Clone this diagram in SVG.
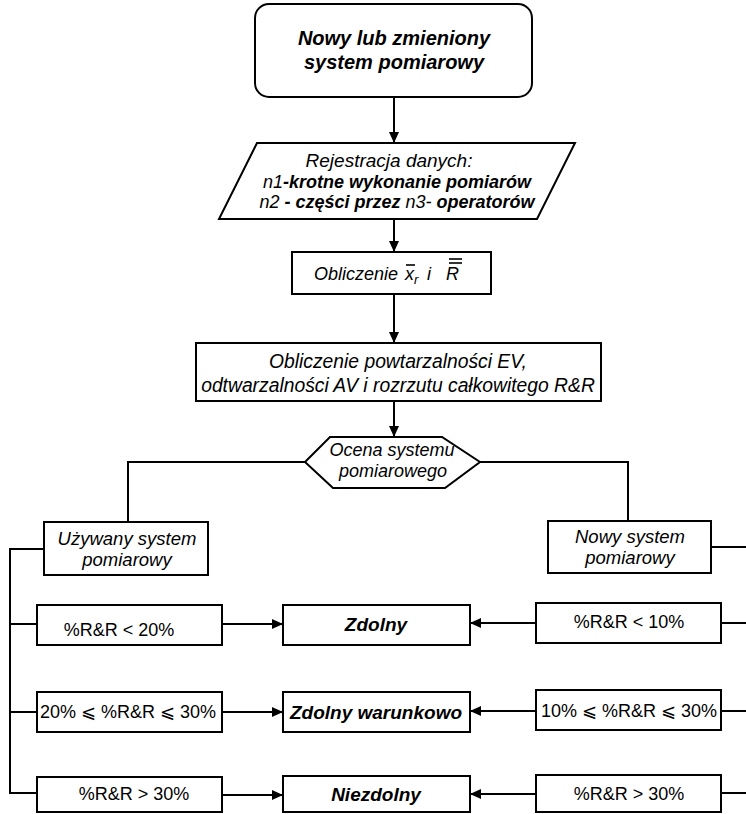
<svg xmlns="http://www.w3.org/2000/svg" width="746" height="814" viewBox="0 0 746 814">
<defs>
<marker id="ah" markerUnits="userSpaceOnUse" markerWidth="12" markerHeight="10" refX="11" refY="5" orient="auto">
<path d="M0,0 L11,5 L0,10 z" fill="#000"/>
</marker>
<style>
.box{fill:#fff;stroke:#000;stroke-width:2}
.ln{fill:none;stroke:#000;stroke-width:2}
.ar{fill:none;stroke:#000;stroke-width:2;marker-end:url(#ah)}
text{font-family:"Liberation Sans",Arial,"DejaVu Sans",sans-serif;fill:#000;text-anchor:middle}
.bi{font-weight:bold;font-style:italic}
.it{font-style:italic}
.f19{font-size:19px}
.f18{font-size:18px}
.f17{font-size:17px}
</style>
</defs>
<rect width="746" height="814" fill="#fff"/>
<g id="connectors">
<line class="ar" x1="394" y1="97" x2="394" y2="143"/>
<line class="ar" x1="394" y1="219" x2="394" y2="252"/>
<line class="ar" x1="394" y1="294" x2="394" y2="343"/>
<line class="ar" x1="394" y1="401" x2="394" y2="437"/>
<polyline class="ln" points="305,462 128,462 128,522"/>
<polyline class="ln" points="480,462 628,462 628,521"/>
<polyline class="ln" points="44,549 10,549 10,793 37,793"/>
<line class="ln" x1="10" y1="624" x2="37" y2="624"/>
<line class="ln" x1="10" y1="712" x2="37" y2="712"/>
<line class="ln" x1="711" y1="547" x2="746" y2="547"/>
<line class="ln" x1="721" y1="623" x2="746" y2="623"/>
<line class="ln" x1="721" y1="711" x2="746" y2="711"/>
<line class="ln" x1="721" y1="793" x2="746" y2="793"/>
<line class="ar" x1="222" y1="624" x2="283" y2="624"/>
<line class="ar" x1="222" y1="712" x2="283" y2="712"/>
<line class="ar" x1="222" y1="795" x2="283" y2="795"/>
<line class="ar" x1="536" y1="623" x2="470" y2="623"/>
<line class="ar" x1="536" y1="711" x2="470" y2="711"/>
<line class="ar" x1="536" y1="794" x2="470" y2="794"/>
</g>
<g id="start">
<rect class="box" x="255" y="4" width="277" height="93" rx="14"/>
<text class="bi" style="font-size:20px" x="394" y="45">Nowy lub zmieniony</text>
<text class="bi" style="font-size:20px" x="394" y="69">system pomiarowy</text>
</g>
<g id="data">
<polygon class="box" points="257,143 575,143 537,219 219,219"/>
<text class="it" style="font-size:19px" x="389" y="167">Rejestracja danych:</text>
<text class="f18" x="397" y="188"><tspan class="it">n1</tspan><tspan class="bi">-krotne wykonanie pomiarów</tspan></text>
<text class="f18" x="397" y="208"><tspan class="it">n2</tspan><tspan class="bi"> - części przez </tspan><tspan class="it">n3-</tspan><tspan class="bi"> operatorów</tspan></text>
</g>
<g id="calc1">
<rect class="box" x="292" y="252" width="199" height="42"/>
<text class="it" style="font-size:18px;text-anchor:start" x="314" y="280">Obliczenie</text>
<text class="it" style="font-size:18px;text-anchor:start" x="405" y="280">x</text>
<text class="it" style="font-size:13px;text-anchor:start" x="414" y="284">r</text>
<text class="it" style="font-size:18px;text-anchor:start" x="427" y="280">i</text>
<text class="it" style="font-size:18px;text-anchor:start" x="446" y="280">R</text>
<line class="ln" style="stroke-width:1.6" x1="406" y1="265" x2="415" y2="265"/>
<line class="ln" style="stroke-width:1.6" x1="449" y1="259" x2="462" y2="259"/>
<line class="ln" style="stroke-width:1.6" x1="449" y1="263" x2="462" y2="263"/>
</g>
<g id="calc2">
<rect class="box" x="196" y="343" width="405" height="58"/>
<text class="it" style="font-size:19.3px" x="398" y="368">Obliczenie powtarzalności EV,</text>
<text class="it" style="font-size:19.3px" x="398" y="392">odtwarzalności AV i rozrzutu całkowitego R&amp;R</text>
</g>
<g id="decision">
<polygon class="box" points="305,462 330,437 442,437 480,462 445,488 333,488"/>
<text class="it f18" x="392" y="456">Ocena systemu</text>
<text class="it f18" x="393" y="477">pomiarowego</text>
</g>
<g id="used">
<rect class="box" x="44" y="522" width="164" height="53"/>
<text class="it" style="font-size:18.5px" x="127" y="545">Używany system</text>
<text class="it" style="font-size:18.5px" x="127" y="566">pomiarowy</text>
</g>
<g id="new">
<rect class="box" x="548" y="521" width="163" height="52"/>
<text class="it" style="font-size:18.5px" x="630" y="543">Nowy system</text>
<text class="it" style="font-size:18.5px" x="630" y="564">pomiarowy</text>
</g>
<g id="l1">
<rect class="box" x="37" y="605" width="185" height="40"/>
<text class="f18" x="119" y="636">%R&amp;R &lt; 20%</text>
</g>
<g id="l2">
<rect class="box" x="37" y="692" width="185" height="40"/>
<text class="f18" x="128" y="718">20% ⩽ %R&amp;R ⩽ 30%</text>
</g>
<g id="l3">
<rect class="box" x="37" y="777" width="185" height="35"/>
<text class="f18" x="134" y="800">%R&amp;R &gt; 30%</text>
</g>
<g id="r1">
<rect class="box" x="536" y="603" width="185" height="40"/>
<text class="f18" x="629" y="628">%R&amp;R &lt; 10%</text>
</g>
<g id="r2">
<rect class="box" x="536" y="690" width="185" height="40"/>
<text class="f18" x="629" y="717">10% ⩽ %R&amp;R ⩽ 30%</text>
</g>
<g id="r3">
<rect class="box" x="536" y="775" width="185" height="37"/>
<text class="f18" x="629" y="800">%R&amp;R &gt; 30%</text>
</g>
<g id="capable">
<rect class="box" x="283" y="605" width="187" height="40"/>
<text class="bi f19" x="376" y="631">Zdolny</text>
</g>
<g id="conditional">
<rect class="box" x="283" y="692" width="187" height="40"/>
<text class="bi f19" x="376" y="719">Zdolny warunkowo</text>
</g>
<g id="incapable">
<rect class="box" x="283" y="776" width="187" height="36"/>
<text class="bi f19" x="376" y="801">Niezdolny</text>
</g>
</svg>
